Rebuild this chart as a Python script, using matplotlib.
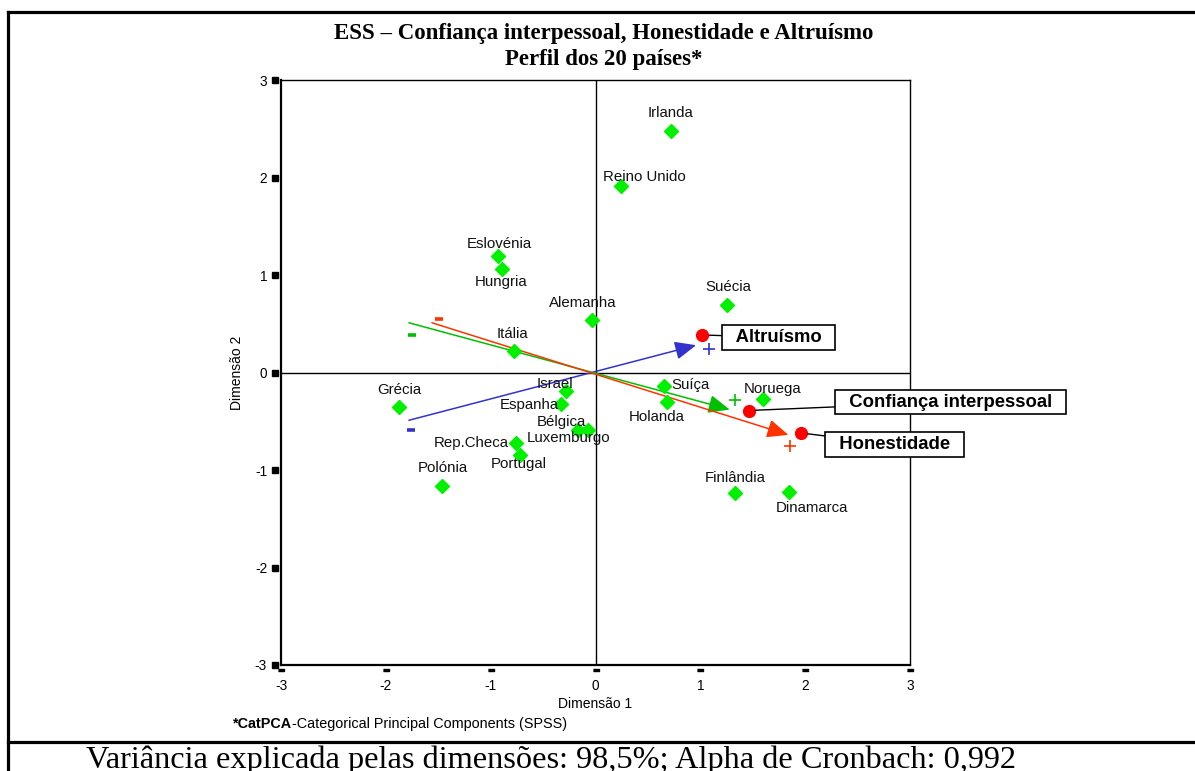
import matplotlib
matplotlib.use("Agg")
import matplotlib.pyplot as plt
from matplotlib.lines import Line2D

# ---------------- data ----------------
countries = ["Irlanda", "Reino Unido", "Eslovénia", "Hungria", "Alemanha", "Itália",
             "Suécia", "Grécia", "Israel", "Espanha", "Bélgica", "Luxemburgo",
             "Rep.Checa", "Portugal", "Polónia", "Suíça", "Holanda", "Noruega",
             "Finlândia", "Dinamarca"]
dim1 = [0.72, 0.24, -0.93, -0.89, -0.03, -0.78, 1.25, -1.87, -0.28, -0.33, -0.17, -0.07,
        -0.76, -0.72, -1.46, 0.65, 0.68, 1.60, 1.33, 1.85]
dim2 = [2.48, 1.91, 1.19, 1.06, 0.54, 0.22, 0.69, -0.35, -0.19, -0.32, -0.59, -0.59,
        -0.72, -0.85, -1.16, -0.14, -0.30, -0.27, -1.24, -1.23]
# label offsets (points)
label_dx = [0, 17, 1, -1, -7, -1, 1, 0, -8, -23, -12, -14, -32, -1, 0, 19, -7, 7, 0, 16]
label_dy = [13, 7, 9, -9, 12, 12, 13, 12, 5, -1, 6, -6, 0, -6, 13, 1, -11, 7, 11, -11]

variables = ["Altruísmo", "Confiança interpessoal", "Honestidade"]
var_colors = ["#3333CC", "#00C000", "#FF3300"]
vec_tail_x = [-1.78, -1.78, -1.56]
vec_tail_y = [-0.49, 0.51, 0.51]
vec_tip_x = [0.96, 1.28, 1.84]
vec_tip_y = [0.28, -0.38, -0.64]
plus_x = [1.08, 1.33, 1.855]
plus_y = [0.24, -0.28, -0.75]
minus_x = [-1.76, -1.75, -1.49]
minus_y = [-0.59, 0.38, 0.545]
load_x = [1.02, 1.46, 1.96]
load_y = [0.385, -0.39, -0.62]
box_x = [1.746, 3.388, 2.855]
box_y = [0.359, -0.303, -0.74]

ticks = [-3, -2, -1, 0, 1, 2, 3]

title1 = "ESS – Confiança interpessoal, Honestidade e Altruísmo"
title2 = "Perfil dos 20 países*"
footnote_bold = "*CatPCA"
footnote_rest = "-Categorical Principal Components (SPSS)"
bottom_text = "Variância explicada pelas dimensões: 98,5%; Alpha de Cronbach: 0,992"

# ---------------- figure ----------------
SANS = "Liberation Sans"
SERIF = "Liberation Serif"
W, H = 1195, 771
fig = plt.figure(figsize=(W / 100, H / 100), dpi=100)
ax = fig.add_axes([281 / W, 1 - 665 / H, (910 - 281) / W, (665 - 80) / H])
ax.set_xlim(-3, 3)
ax.set_ylim(-3, 3)

for s in ["left", "bottom"]:
    ax.spines[s].set_linewidth(1.6)
for s in ["top", "right"]:
    ax.spines[s].set_linewidth(1.0)

ax.axhline(0, color="black", lw=1.0, zorder=1)
ax.axvline(0, color="black", lw=1.0, zorder=1)

ax.set_xticks(ticks)
ax.set_yticks(ticks)
ax.set_xticklabels([str(t) for t in ticks], fontfamily=SANS, fontsize=9.8)
ax.set_yticklabels([str(t) for t in ticks], fontfamily=SANS, fontsize=9.8)
ax.tick_params(axis="x", length=0, pad=10)
ax.tick_params(axis="y", length=0, pad=10)

# custom tick marks
ytr = ax.get_yaxis_transform()
xtr = ax.get_xaxis_transform()
ax.plot([-0.009] * len(ticks), ticks, ls="none", marker="s", ms=3.8, color="black",
        transform=ytr, clip_on=False, zorder=5)
dash = [(-3, -1.2), (3, -1.2), (3, 1.2), (-3, 1.2)]
ax.plot(ticks, [-0.0085] * len(ticks), ls="none", marker=dash, ms=4.3, color="black",
        transform=xtr, clip_on=False, zorder=5)

ax.set_xlabel("Dimensão 1", fontfamily=SANS, fontsize=10, labelpad=3)
ax.set_ylabel("Dimensão 2", fontfamily=SANS, fontsize=10, labelpad=8)

# vectors
for i in range(len(variables)):
    c = var_colors[i]
    ax.annotate("", xy=(vec_tip_x[i], vec_tip_y[i]), xytext=(vec_tail_x[i], vec_tail_y[i]),
                arrowprops=dict(arrowstyle="-|>,head_length=0.65,head_width=0.28",
                                color=c, lw=1.1, mutation_scale=20,
                                shrinkA=0, shrinkB=0), zorder=3)
    ax.plot(plus_x[i], plus_y[i], marker="+", ms=9, mew=1.2, color=c, zorder=4)
    ax.plot(minus_x[i], minus_y[i], marker="_", ms=6, mew=2.6, color=c, zorder=4)

# countries
ax.plot(dim1, dim2, ls="none", marker="D", ms=7, color="#00F000", mec="#00F000", zorder=4)
for name, x, y, dx, dy in zip(countries, dim1, dim2, label_dx, label_dy):
    ax.annotate(name, xy=(x, y), xytext=(dx, dy), textcoords="offset points",
                ha="center", va="center", fontfamily=SANS, fontsize=10.8, color="#111111",
                zorder=6)

# variable loadings with boxed labels
for i in range(len(variables)):
    ax.plot(load_x[i], load_y[i], marker="o", ms=8.5, color="#FF0000", mec="#FF0000", zorder=5)
    ax.annotate("  " + variables[i] + "  ", xy=(load_x[i], load_y[i]),
                xytext=(box_x[i], box_y[i]), textcoords="data",
                ha="center", va="center", fontfamily=SANS, fontsize=13.3, fontweight="bold",
                bbox=dict(boxstyle="square,pad=0.2", fc="white", ec="black", lw=1.2),
                arrowprops=dict(arrowstyle="-", color="black", lw=1.0,
                                shrinkA=0, shrinkB=5),
                annotation_clip=False, zorder=7)

# titles and notes
fig.text(604 / W, 1 - 34 / H, title1, ha="center", va="center", fontfamily=SERIF,
         fontsize=16.5, fontweight="bold")
fig.text(604 / W, 1 - 59 / H, title2, ha="center", va="center", fontfamily=SERIF,
         fontsize=16.5, fontweight="bold")
t1 = fig.text(233 / W, 1 - 724 / H, footnote_bold, ha="left", va="center", fontfamily=SANS,
              fontsize=10.4, fontweight="bold")
fig.canvas.draw()
bb = t1.get_window_extent()
fig.text(bb.x1 / W, 1 - 724 / H, footnote_rest, ha="left", va="center", fontfamily=SANS,
         fontsize=10.4)
fig.text(551 / W, 1 - 768 / H, bottom_text, ha="center", va="baseline", fontfamily=SERIF,
         fontsize=23.3)

# table borders
lw_b = 2.3
fig.add_artist(Line2D([8 / W, 8 / W], [0, 1 - 12 / H], color="black", lw=lw_b))
fig.add_artist(Line2D([8 / W, 1], [1 - 12 / H, 1 - 12 / H], color="black", lw=lw_b))
fig.add_artist(Line2D([8 / W, 1], [1 - 742 / H, 1 - 742 / H], color="black", lw=lw_b))

fig.savefig("out.png", dpi=100)
